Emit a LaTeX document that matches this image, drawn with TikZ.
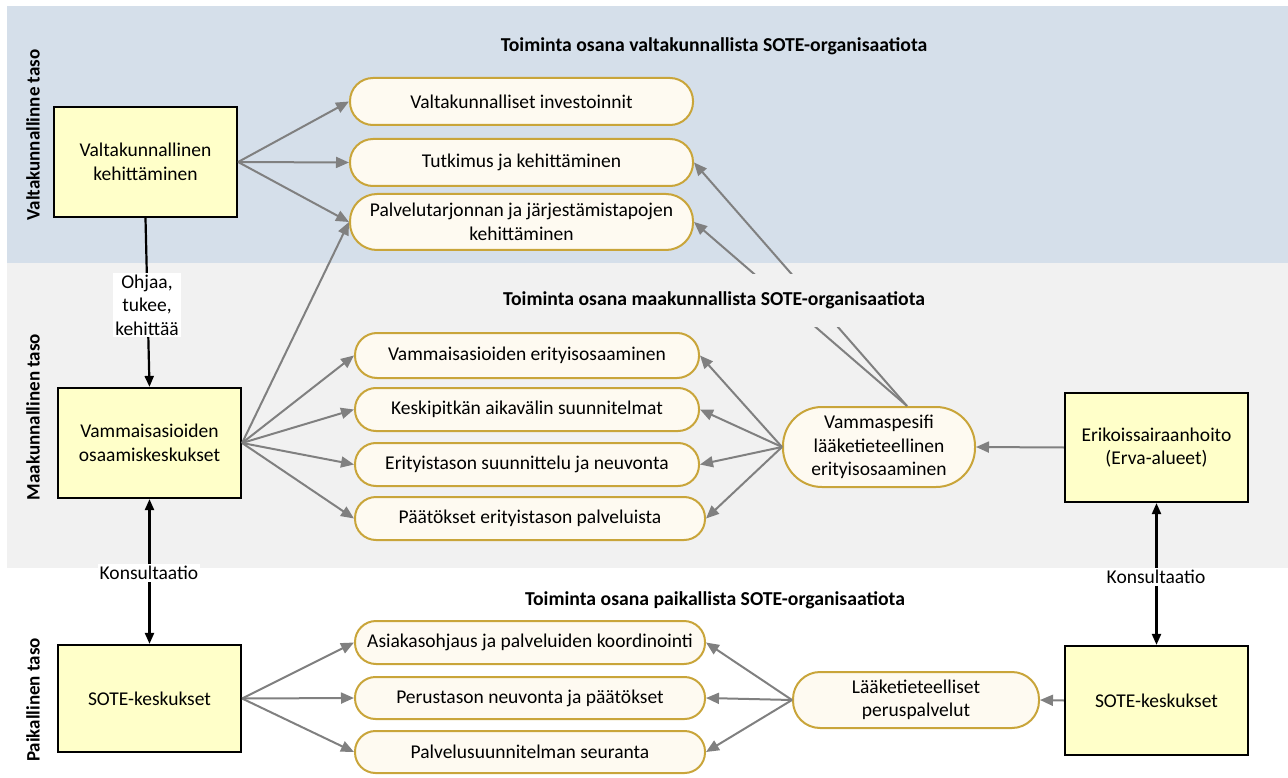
\documentclass[tikz,border=0pt]{standalone}
\usepackage{fontspec}
\setmainfont{Carlito}
\usetikzlibrary{arrows.meta}
\definecolor{bandblue}{HTML}{D5DFEA}
\definecolor{bandgray}{HTML}{F1F1F1}
\definecolor{boxfill}{HTML}{FFFFC9}
\definecolor{pillfill}{HTML}{FEFAF1}
\definecolor{pillline}{HTML}{C9A53A}
\definecolor{arrgray}{HTML}{808080}
\begin{document}
\begin{tikzpicture}[x=1pt,y=-1pt,
  font=\fontsize{19.5}{23.5}\selectfont,
  box/.style={draw=black,line width=2.2pt,fill=boxfill,minimum width=183pt,minimum height=110pt,align=center,inner sep=0pt},
  pill/.style={draw=pillline,line width=2pt,fill=pillfill,minimum width=346pt,minimum height=45pt,align=center,inner sep=0pt},
  garr/.style={draw=arrgray,line width=2pt,-{Triangle[length=13pt,width=11pt]}},
  barr/.style={draw=black,line width=2.2pt,-{Triangle[length=11pt,width=9pt]}},
  bbarr/.style={draw=black,line width=2.2pt,{Triangle[length=11pt,width=9pt]}-{Triangle[length=11pt,width=9pt]}},
  ttl/.style={font=\fontsize{19.7}{23}\selectfont\bfseries,inner sep=0pt},
  lvl/.style={font=\fontsize{19}{23}\selectfont\bfseries,rotate=90,inner sep=0pt},
  lbl/.style={fill=white,inner sep=2pt,align=center}]
\useasboundingbox (0,0) rectangle (1288,778);
\fill[bandblue] (7,6) rectangle (1288,263);
\fill[bandgray] (7,263) rectangle (1288,568);

% level labels
\node[lvl] (l1) at (33,135) {Valtakunnallinne taso};
\node[lvl] (l2) at (33,417) {Maakunnallinen taso};
\node[lvl] (l3) at (33,700) {Paikallinen taso};

% titles
\node[ttl] (t1) at (714,46) {Toiminta osana valtakunnallista SOTE-organisaatiota};
\node[ttl] (t3) at (715,600) {Toiminta osana paikallista SOTE-organisaatiota};

% boxes
\node[box] (vk) at (145.5,162) {Valtakunnallinen\\kehittäminen};
\node[box] (vo) at (149.5,443) {Vammaisasioiden\\osaamiskeskukset};
\node[box,minimum height=107pt] (sl) at (149.5,698.5) {SOTE-keskukset};
\node[box,minimum height=109pt] (er) at (1156.5,447.5) {Erikoissairaanhoito\\(Erva-alueet)};
\node[box,minimum height=109pt] (sr) at (1156.5,700.5) {SOTE-keskukset};

% pills
\node[pill,minimum width=343pt,minimum height=47pt,rounded corners=23pt] (p1) at (521.5,101.5) {Valtakunnalliset investoinnit};
\node[pill,minimum width=343pt,minimum height=47pt,rounded corners=23pt] (p2) at (521.5,162.5) {Tutkimus ja kehittäminen};
\node[pill,minimum width=343pt,minimum height=56pt,rounded corners=27pt] (p3) at (521.5,222) {Palvelutarjonnan ja järjestämistapojen\\kehittäminen};

\node[pill,minimum width=344pt,minimum height=45pt,rounded corners=22pt] (m1) at (527,355.5) {Vammaisasioiden erityisosaaminen};
\node[pill,minimum width=344pt,minimum height=43pt,rounded corners=21pt] (m2) at (527,409.5) {Keskipitkän aikavälin suunnitelmat};
\node[pill,minimum width=344pt,minimum height=43pt,rounded corners=21pt] (m3) at (527,464.5) {Erityistason suunnittelu ja neuvonta};
\node[pill,minimum width=350pt,minimum height=43pt,rounded corners=21pt] (m4) at (530,518.5) {Päätökset erityistason palveluista};

\node[pill,minimum width=192pt,minimum height=80pt,rounded corners=39pt] (v) at (879,447) {Vammaspesifi\\lääketieteellinen\\erityisosaaminen};

\node[pill,minimum width=350pt,minimum height=43pt,rounded corners=21pt] (b1) at (530,642.5) {Asiakasohjaus ja palveluiden koordinointi};
\node[pill,minimum width=350pt,minimum height=42pt,rounded corners=20.5pt] (b2) at (530,698) {Perustason neuvonta ja päätökset};
\node[pill,minimum width=350pt,minimum height=42pt,rounded corners=20.5pt] (b3) at (530,752) {Palvelusuunnitelman seuranta};

\node[pill,minimum width=246pt,minimum height=56pt,rounded corners=27pt] (L) at (916,700) {Lääketieteelliset\\peruspalvelut};

% gray arrows
\draw[garr] (vk.east) -- (p1.west);
\draw[garr] (vk.east) -- (p2.west);
\draw[garr] (vk.east) -- (p3.west);

\draw[garr] (vo.east) -- (p3.west);
\draw[garr] (vo.east) -- (m1.west);
\draw[garr] (vo.east) -- (m2.west);
\draw[garr] (vo.east) -- (m3.west);
\draw[garr] (vo.east) -- (m4.west);

\draw[garr] (v.west) -- (m1.east);
\draw[garr] (v.west) -- (m2.east);
\draw[garr] (v.west) -- (m3.east);
\draw[garr] (v.west) -- (m4.east);
\draw[garr] ([xshift=28pt]v.north) -- (p2.east);
\draw[garr] ([xshift=28pt]v.north) -- (p3.east);

\draw[garr] (er.west) -- (v.east);
\draw[garr] (sr.west) -- (L.east);

\draw[garr] (L.west) -- (b1.east);
\draw[garr] (L.west) -- (b2.east);
\draw[garr] (L.west) -- (b3.east);

\draw[garr] (sl.east) -- (b1.west);
\draw[garr] (sl.east) -- (b2.west);
\draw[garr] (sl.east) -- (b3.west);

% black arrows
\draw[barr] (vk.south) -- (vo.north);
\draw[bbarr] (vo.south) -- (sl.north);
\draw[bbarr] (er.south) -- (sr.north);

% labels on top
\node[ttl,fill=bandgray,minimum height=53pt,inner xsep=4pt] (t2) at (714,300) {Toiminta osana maakunnallista SOTE-organisaatiota};
\node[lbl] (lo) at (147,305) {Ohjaa,\\tukee,\\kehittää};
\node[lbl] (lk1) at (149,573) {Konsultaatio};
\node[lbl] (lk2) at (1156,577) {Konsultaatio};
\end{tikzpicture}
\end{document}
